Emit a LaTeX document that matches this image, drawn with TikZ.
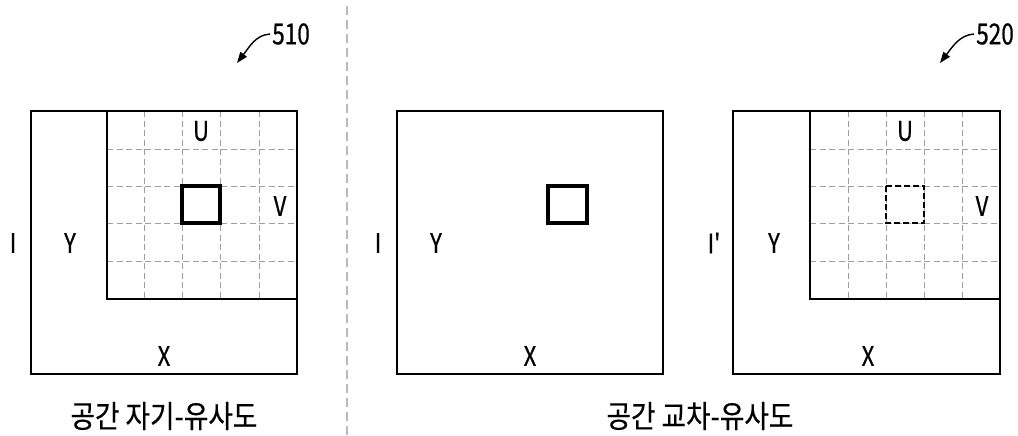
\documentclass[tikz,border=0pt]{standalone}
\usepackage{fontspec}
\setmainfont{Noto Sans CJK KR}
\newfontfamily\lblfont[FakeStretch=0.82,FakeBold=0.6,Ligatures=TeXOff]{Noto Sans CJK KR}
\newfontfamily\numfont[FakeStretch=0.78,FakeBold=0.6]{Noto Sans CJK KR}
\newfontfamily\capfont[FakeStretch=0.86,FakeBold=0.4]{Noto Sans CJK KR}
\usetikzlibrary{arrows.meta}
\tikzset{
  frame/.style={line width=1.6pt, black},
  gridline/.style={line width=0.9pt, gray!75, dash pattern=on 6pt off 3.5pt},
  boldsq/.style={line width=3.2pt, black},
  dashsq/.style={line width=2.2pt, black, dash pattern=on 6pt off 3pt},
  lbl/.style={font=\lblfont\fontsize{27}{27}\selectfont, inner sep=0pt},
  captext/.style={font=\capfont\fontsize{31}{31}\selectfont, inner sep=0pt},
  refnum/.style={font=\numfont\fontsize{29}{29}\selectfont, inner sep=2pt, anchor=west},
  refarrow/.style={line width=1.4pt, -{Triangle[length=11pt,width=8pt]}},
  divider/.style={line width=1.2pt, gray!55, dash pattern=on 9pt off 5pt}
}
\begin{document}
\begin{tikzpicture}[x=1pt,y=-1pt]
\useasboundingbox (0,0) rectangle (1018,436);
% ---------- left panel ----------
\draw[gridline] (144,111) -- (144,299) (182,111) -- (182,299) (220,111) -- (220,299) (259,111) -- (259,299);
\draw[gridline] (107,149) -- (297,149) (107,186) -- (297,186) (107,223) -- (297,223) (107,261) -- (297,261);
\draw[frame] (31,111) rectangle (297,374);
\draw[frame] (107,111) -- (107,299) -- (297,299);
\draw[boldsq] (182,186) rectangle (220,223);
\node[lbl] (lU) at (201,131) {U};
\node[lbl] (lV) at (280,206) {V};
\node[lbl] (lY) at (70,243) {Y};
\node[lbl] (lI) at (13,243) {I};
\node[lbl] (lX) at (164,356) {X};
\node[captext] (lcap) at (164,416) {공간 자기-유사도};
\node[refnum] (r510) at (270,34) {510};
\coordinate (t510) at (237,63);
\draw[refarrow] (r510.west) .. controls (256,35) and (250,46) .. (t510);
% ---------- divider ----------
\draw[divider] (347,6) -- (347,436);
% ---------- middle panel ----------
\draw[frame] (397,111) rectangle (663,374);
\draw[boldsq] (548,186) rectangle (587,223);
\node[lbl] (mI) at (378,243) {I};
\node[lbl] (mY) at (436,243) {Y};
\node[lbl] (mX) at (530,356) {X};
% ---------- right panel ----------
\draw[gridline] (848,111) -- (848,299) (886,111) -- (886,299) (924,111) -- (924,299) (962,111) -- (962,299);
\draw[gridline] (810,149) -- (1000,149) (810,186) -- (1000,186) (810,223) -- (1000,223) (810,261) -- (1000,261);
\draw[frame] (733,111) rectangle (1000,374);
\draw[frame] (810,111) -- (810,299) -- (1000,299);
\draw[dashsq] (886,186) rectangle (924,223);
\node[lbl] (rU) at (905,131) {U};
\node[lbl] (rV) at (982,206) {V};
\node[lbl] (rY) at (774,243) {Y};
\node[lbl] (rI) at (714,243) {I'};
\node[lbl] (rX) at (868,356) {X};
\node[captext] (rcap) at (700,416) {공간 교차-유사도};
\node[refnum] (r520) at (974,34) {520};
\coordinate (t520) at (940,63);
\draw[refarrow] (r520.west) .. controls (960,35) and (953,46) .. (t520);
\end{tikzpicture}
\end{document}
